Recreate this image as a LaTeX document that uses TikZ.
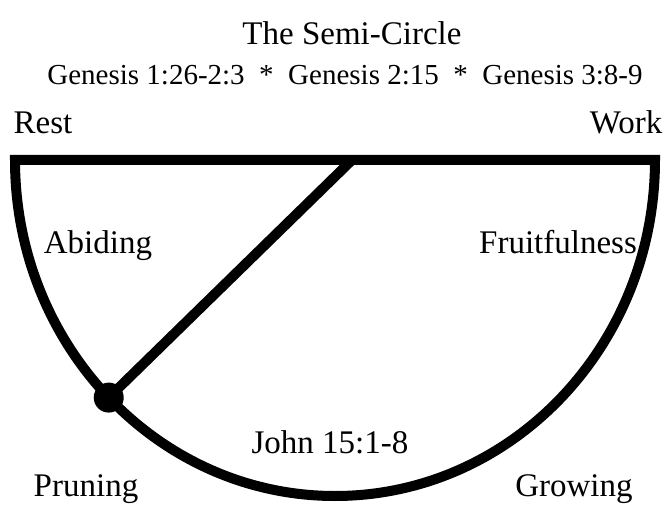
\documentclass[tikz,border=0pt]{standalone}
\usepackage{fontspec}
\setmainfont{Liberation Serif}
\usepackage{tikz}
\usetikzlibrary{positioning, calc}

\begin{document}
\begin{tikzpicture}[
    x=1pt, y=-1pt,
    titulo/.style={inner sep=0pt, anchor=base, font=\fontsize{33}{36}\selectfont},
    fonte/.style={inner sep=0pt, anchor=base, font=\fontsize{29}{32}\selectfont},
    zona/.style={inner sep=0pt, anchor=base, font=\fontsize{33}{36}\selectfont},
    borda/.style={line width=10pt, line join=miter},
    ponto/.style={circle, fill, inner sep=0pt, minimum size=30pt}
]
\useasboundingbox (0,0) rectangle (667,505);

\node[titulo] (titulo) at (352,45) {The Semi-Circle};
\node[fonte] (versos) at (345,85) {Genesis 1:26-2:3 ~*~ Genesis 2:15 ~*~ Genesis 3:8-9};

\node[zona] (rest) at (43,134) {Rest};
\node[zona] (work) at (626,134) {Work};
\node[zona] (abiding) at (98,254) {Abiding};
\node[zona] (fruit) at (558,254) {Fruitfulness};
\node[zona] (john) at (330,453) {John 15:1-8};
\node[zona] (pruning) at (86,496) {Pruning};
\node[zona] (growing) at (574,496) {Growing};

% semicirculo
\coordinate (centro) at (335,160);
\coordinate (esq) at (15,160);
\coordinate (dir) at (655,160);
\coordinate (topo) at (352,160);
\draw[borda] (esq) -- (dir) arc[start angle=0, end angle=180, x radius=320, y radius=336] -- cycle;

\node[ponto] (poda) at ($(centro)+(135:320 and 336)$) {};
\draw[borda] (topo) -- (poda.center);

\end{tikzpicture}
\end{document}
